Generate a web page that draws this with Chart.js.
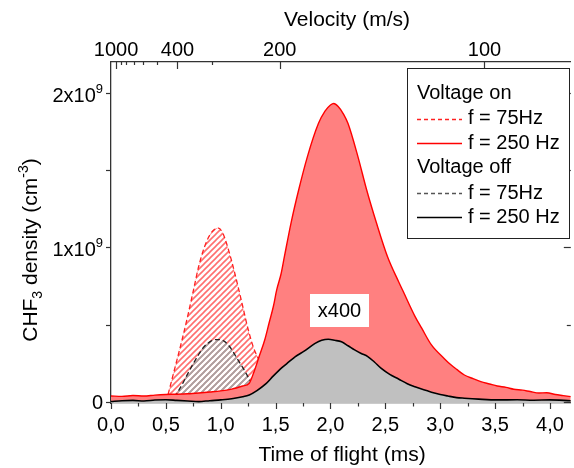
<!DOCTYPE html>
<html>
<head>
<meta charset="utf-8">
<script src="https://cdn.jsdelivr.net/npm/chart.js@4.4.1/dist/chart.umd.min.js"></script>
<style>
html, body { margin: 0; padding: 0; background: #fff; }
#wrap { width: 574px; height: 468px; }
</style>
</head>
<body>
<div id="wrap"><canvas id="tofChart" width="574" height="468"></canvas></div>
<script>
// time of flight (ms) / CHF3 density (in units of 1e9 cm^-3)
const timeOn250 = [0.00, 0.10, 0.20, 0.30, 0.40, 0.50, 0.60, 0.70, 0.80, 0.90, 1.00, 1.10, 1.20, 1.26, 1.30, 1.35, 1.40, 1.44, 1.48, 1.51, 1.55, 1.58, 1.64, 1.71, 1.79, 1.89, 1.95, 2.00, 2.03, 2.07, 2.12, 2.16, 2.25, 2.33, 2.42, 2.52, 2.62, 2.66, 2.77, 2.83, 2.92, 3.04, 3.10, 3.15, 3.22, 3.30, 3.37, 3.45, 3.52, 3.60, 3.67, 3.75, 3.82, 3.90, 3.97, 4.05, 4.12, 4.19];
const densOn250 = [0.040, 0.038, 0.043, 0.040, 0.046, 0.050, 0.052, 0.055, 0.060, 0.066, 0.073, 0.085, 0.105, 0.123, 0.190, 0.295, 0.400, 0.510, 0.620, 0.726, 0.830, 0.940, 1.156, 1.371, 1.587, 1.800, 1.880, 1.920, 1.930, 1.910, 1.860, 1.800, 1.587, 1.371, 1.156, 0.940, 0.780, 0.720, 0.555, 0.480, 0.370, 0.280, 0.240, 0.212, 0.176, 0.152, 0.133, 0.118, 0.105, 0.096, 0.084, 0.078, 0.069, 0.060, 0.061, 0.050, 0.043, 0.036];

const timeOff250 = [0.00, 0.10, 0.20, 0.30, 0.40, 0.50, 0.60, 0.70, 0.80, 0.90, 1.00, 1.10, 1.20, 1.26, 1.33, 1.41, 1.48, 1.56, 1.62, 1.68, 1.76, 1.86, 1.92, 1.98, 2.04, 2.10, 2.16, 2.22, 2.28, 2.34, 2.40, 2.46, 2.54, 2.62, 2.70, 2.77, 2.85, 2.92, 3.00, 3.07, 3.15, 3.22, 3.35, 3.52, 3.70, 3.85, 4.00, 4.19];
const densOff250 = [0.005, 0.010, 0.012, 0.008, 0.014, 0.016, 0.012, 0.008, 0.004, 0.010, 0.015, 0.022, 0.035, 0.047, 0.075, 0.118, 0.170, 0.225, 0.260, 0.295, 0.330, 0.380, 0.400, 0.407, 0.400, 0.390, 0.365, 0.338, 0.315, 0.295, 0.260, 0.220, 0.180, 0.150, 0.120, 0.100, 0.080, 0.065, 0.050, 0.040, 0.030, 0.026, 0.020, 0.015, 0.016, 0.013, 0.015, 0.010];

const timeOn75 = [0.52, 0.56, 0.60, 0.65, 0.70, 0.75, 0.80, 0.85, 0.90, 0.95, 0.98, 1.02, 1.06, 1.10, 1.15, 1.20, 1.25, 1.30, 1.35];
const densOn75 = [0.05, 0.16, 0.27, 0.41, 0.56, 0.72, 0.88, 1.00, 1.08, 1.12, 1.125, 1.09, 1.01, 0.91, 0.77, 0.62, 0.47, 0.35, 0.27];

const timeOff75 = [0.58, 0.62, 0.66, 0.70, 0.75, 0.80, 0.85, 0.90, 0.95, 0.99, 1.04, 1.08, 1.12, 1.16, 1.20, 1.24, 1.28];
const densOff75 = [0.03, 0.08, 0.13, 0.185, 0.25, 0.31, 0.36, 0.39, 0.405, 0.405, 0.39, 0.36, 0.317, 0.27, 0.225, 0.175, 0.125];

const xTicks = [0, 0.5, 1.0, 1.5, 2.0, 2.5, 3.0, 3.5, 4.0];
const xMinorTicks = [0.25, 0.75, 1.25, 1.75, 2.25, 2.75, 3.25, 3.75];
const yTicks = [0, 1, 2];
const yTickLabels = ['0', '1x10', '2x10'];
const yMinorTicks = [0.5, 1.5];
const velocityTicks = [1000, 400, 200, 100];
const velocityMinorTicks = [900, 800, 700, 600, 500, 300];

const FLIGHT_PATH = 373;   // mm, so v (m/s) = L / (t - t0)
const T_OFFSET = -0.327;   // ms
const FONT = "'Liberation Sans', Arial, sans-serif";
const AXIS_COLOR = '#333';

const toPoints = (ts, ys) => ts.map((t, i) => ({ x: t, y: ys[i] }));
const velocityToTime = v => FLIGHT_PATH / v + T_OFFSET;

function hatch(color) {
    const size = 6;
    const tile = document.createElement('canvas');
    tile.width = size;
    tile.height = size;
    const c = tile.getContext('2d');
    c.strokeStyle = color;
    c.lineWidth = 1.6;
    c.beginPath();
    c.moveTo(-1, 1); c.lineTo(1, -1);
    c.moveTo(0, size); c.lineTo(size, 0);
    c.moveTo(size - 1, size + 1); c.lineTo(size + 1, size - 1);
    c.stroke();
    return c.createPattern(tile, 'repeat');
}

function drawTick(ctx, x1, y1, x2, y2) {
    ctx.beginPath();
    ctx.moveTo(x1, y1);
    ctx.lineTo(x2, y2);
    ctx.stroke();
}

const decor = {
    id: 'decor',
    afterDatasetsDraw(chart) {
        const { ctx } = chart;
        ctx.save();
        ctx.fillStyle = '#fff';
        ctx.fillRect(310, 294, 59, 33);
        ctx.fillStyle = '#000';
        ctx.font = `20px ${FONT}`;
        ctx.textAlign = 'center';
        ctx.textBaseline = 'middle';
        ctx.fillText('x400', 339.5, 311);
        ctx.restore();
    },
    afterDraw(chart) {
        const { ctx, chartArea: area, scales } = chart;
        const { x, y } = scales;
        const px = v => Math.round(x.getPixelForValue(v)) + 0.5;
        const py = v => Math.round(y.getPixelForValue(v)) + 0.5;
        ctx.save();
        ctx.strokeStyle = AXIS_COLOR;
        ctx.lineWidth = 1.2;

        // bottom axis ticks (outward)
        xTicks.forEach(v => drawTick(ctx, px(v), area.bottom, px(v), area.bottom + 6));
        xMinorTicks.forEach(v => drawTick(ctx, px(v), area.bottom, px(v), area.bottom + 3.5));
        // top velocity ticks (inward)
        velocityTicks.forEach(v => drawTick(ctx, px(velocityToTime(v)), area.top, px(velocityToTime(v)), area.top + 7));
        velocityMinorTicks.forEach(v => drawTick(ctx, px(velocityToTime(v)), area.top, px(velocityToTime(v)), area.top + 3));
        // left ticks (outward) and right ticks (inward)
        yTicks.forEach(v => {
            drawTick(ctx, area.left - 5, py(v), area.left, py(v));
            drawTick(ctx, area.right, py(v), area.right - 7, py(v));
        });
        yMinorTicks.forEach(v => {
            drawTick(ctx, area.left - 5, py(v), area.left, py(v));
            drawTick(ctx, area.right, py(v), area.right - 4, py(v));
        });

        // y tick labels with exponent
        ctx.fillStyle = '#000';
        ctx.textAlign = 'right';
        ctx.textBaseline = 'alphabetic';
        yTicks.forEach((v, i) => {
            const base = y.getPixelForValue(v);
            if (v === 0) {
                ctx.font = `20px ${FONT}`;
                ctx.fillText(yTickLabels[i], 103, base + 7);
            } else {
                ctx.font = `13px ${FONT}`;
                const supW = ctx.measureText('9').width;
                ctx.fillText('9', 103, base);
                ctx.font = `20px ${FONT}`;
                ctx.fillText(yTickLabels[i], 103 - supW, base + 9);
            }
        });

        // axis titles
        ctx.font = `21px ${FONT}`;
        ctx.textAlign = 'center';
        ctx.textBaseline = 'middle';
        ctx.fillText('Time of flight (ms)', 342, 455);
        ctx.fillText('Velocity (m/s)', 347, 20);

        // rotated y title with sub/superscript
        const parts = [
            { t: 'CHF', size: 21, dy: 0 },
            { t: '3', size: 14, dy: 5 },
            { t: ' density (cm', size: 21, dy: 0 },
            { t: '-3', size: 14, dy: -9 },
            { t: ')', size: 21, dy: 0 }
        ];
        let total = 0;
        parts.forEach(p => {
            ctx.font = `${p.size}px ${FONT}`;
            p.w = ctx.measureText(p.t).width;
            total += p.w;
        });
        ctx.save();
        ctx.translate(37, 250);
        ctx.rotate(-Math.PI / 2);
        ctx.textAlign = 'left';
        ctx.textBaseline = 'alphabetic';
        let cx = -total / 2;
        parts.forEach(p => {
            ctx.font = `${p.size}px ${FONT}`;
            ctx.fillText(p.t, cx, p.dy);
            cx += p.w;
        });
        ctx.restore();

        // legend
        ctx.fillStyle = '#fff';
        ctx.fillRect(407.5, 68.5, 162, 170);
        ctx.strokeStyle = '#222';
        ctx.lineWidth = 1;
        ctx.strokeRect(407.5, 68.5, 162, 170);
        const rows = [
            { label: 'Voltage on', y: 93 },
            { label: 'f = 75Hz', y: 118.5, color: '#ff2020', dash: [4, 3] },
            { label: 'f = 250 Hz', y: 143, color: '#ff0000', dash: [] },
            { label: 'Voltage off', y: 167.5 },
            { label: 'f = 75Hz', y: 193, color: '#555555', dash: [4, 3] },
            { label: 'f = 250 Hz', y: 217, color: '#000000', dash: [] }
        ];
        ctx.font = `20px ${FONT}`;
        ctx.textAlign = 'left';
        ctx.textBaseline = 'middle';
        rows.forEach(r => {
            ctx.fillStyle = '#000';
            if (!r.color) {
                ctx.fillText(r.label, 417, r.y);
                return;
            }
            ctx.save();
            ctx.strokeStyle = r.color;
            ctx.lineWidth = 1.5;
            ctx.setLineDash(r.dash);
            drawTick(ctx, 417, Math.round(r.y) + 0.5, 462, Math.round(r.y) + 0.5);
            ctx.restore();
            ctx.fillText(r.label, 468, r.y);
        });
        ctx.restore();
    }
};

const lineDefaults = {
    pointRadius: 0,
    cubicInterpolationMode: 'monotone',
    fill: 'start'
};

new Chart(document.getElementById('tofChart'), {
    type: 'line',
    data: {
        datasets: [
            {
                ...lineDefaults,
                label: 'Voltage on, f = 250 Hz',
                data: toPoints(timeOn250, densOn250),
                borderColor: '#ff0000',
                borderWidth: 1.4,
                backgroundColor: '#ff8080',
                order: 2
            },
            {
                ...lineDefaults,
                label: 'Voltage off, f = 250 Hz',
                data: toPoints(timeOff250, densOff250),
                borderColor: '#000',
                borderWidth: 1.6,
                backgroundColor: '#c0c0c0',
                order: 1
            },
            {
                ...lineDefaults,
                label: 'Voltage on, f = 75Hz',
                data: toPoints(timeOn75, densOn75),
                borderColor: '#ff2020',
                borderWidth: 1.3,
                borderDash: [5, 3],
                backgroundColor: hatch('rgba(255,95,95,0.9)'),
                order: 4
            },
            {
                ...lineDefaults,
                label: 'Voltage off, f = 75Hz',
                data: toPoints(timeOff75, densOff75),
                borderColor: '#222',
                borderWidth: 1.3,
                borderDash: [5, 3],
                backgroundColor: hatch('rgba(165,165,165,1)'),
                order: 3
            }
        ]
    },
    options: {
        responsive: false,
        animation: false,
        layout: { padding: 0 },
        plugins: {
            legend: { display: false },
            tooltip: { enabled: false }
        },
        scales: {
            x: {
                type: 'linear',
                position: 'bottom',
                min: 0,
                max: 4.19,
                afterBuildTicks: scale => { scale.ticks = xTicks.map(v => ({ value: v })); },
                afterFit: scale => { scale.height = 65; },
                grid: { display: false, drawTicks: false },
                border: { display: true, color: AXIS_COLOR, width: 1.3 },
                ticks: {
                    autoSkip: false,
                    maxRotation: 0,
                    padding: 10,
                    color: '#000',
                    font: { family: FONT, size: 20 },
                    callback: v => v.toFixed(1).replace('.', ',')
                }
            },
            x2: {
                type: 'linear',
                position: 'top',
                min: 0,
                max: 4.19,
                afterBuildTicks: scale => { scale.ticks = velocityTicks.map(v => ({ value: velocityToTime(v) })); },
                afterFit: scale => { scale.height = 62; },
                grid: { display: false, drawTicks: false },
                border: { display: true, color: AXIS_COLOR, width: 1.3 },
                ticks: {
                    autoSkip: false,
                    maxRotation: 0,
                    padding: 0,
                    color: '#000',
                    font: { family: FONT, size: 20 },
                    callback: (v, i) => String(velocityTicks[i])
                }
            },
            y: {
                type: 'linear',
                min: -0.005,
                max: 2.198,
                afterFit: scale => { scale.width = 111; },
                grid: { display: false, drawTicks: false },
                border: { display: true, color: AXIS_COLOR, width: 1.3 },
                ticks: { display: false }
            }
        }
    },
    plugins: [decor]
});
</script>
</body>
</html>
